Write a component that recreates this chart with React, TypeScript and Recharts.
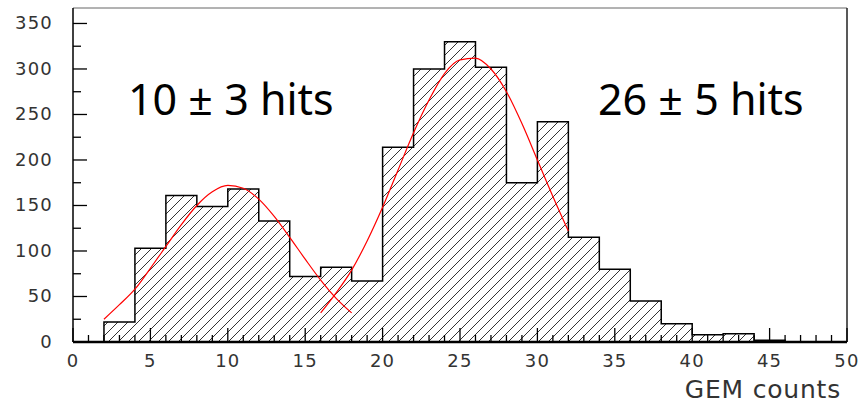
import React from "react";
import { ComposedChart, XAxis, YAxis, Area, Line, ReferenceLine } from "recharts";

// histogram: bins of width 2, left edges
const binStarts = [2, 4, 6, 8, 10, 12, 14, 16, 18, 20, 22, 24, 26, 28, 30, 32, 34, 36, 38, 40, 42, 44];
const counts = [22, 103, 161, 149, 168, 133, 72, 82, 67, 214, 300, 330, 302, 175, 242, 115, 80, 45, 20, 8, 9, 2];
const lastEdge = 46;

// gaussian fit, low peak
const fitLowX = [2, 3, 4, 5, 6, 7, 8, 9, 10, 11, 12, 13, 14, 15, 16, 17, 18];
const fitLowY = [25, 41, 58, 81, 105, 129, 150, 165, 172, 169, 157, 138, 115, 91, 68, 48, 32];

// gaussian fit, high peak
const fitHighX = [16, 17, 18, 19, 20, 21, 22, 23, 24, 25, 26, 27, 28, 29, 30, 31, 32];
const fitHighY = [32, 54, 79, 111, 148, 189, 230, 266, 295, 310, 312, 300, 275, 240, 200, 160, 122];

const xTicks = [0, 1, 2, 3, 4, 5, 6, 7, 8, 9, 10, 11, 12, 13, 14, 15, 16, 17, 18, 19, 20, 21, 22, 23, 24, 25,
  26, 27, 28, 29, 30, 31, 32, 33, 34, 35, 36, 37, 38, 39, 40, 41, 42, 43, 44, 45, 46, 47, 48, 49, 50];
const yTicks = [0, 25, 50, 75, 100, 125, 150, 175, 200, 225, 250, 275, 300, 325, 350];
const yMax = 367;

const histData = [
  { x: binStarts[0], count: 0 },
  ...binStarts.map((x, i) => ({ x, count: counts[i] })),
  { x: lastEdge, count: 0 },
];
const fitLow = fitLowX.map((x, i) => ({ x, fit: fitLowY[i] }));
const fitHigh = fitHighX.map((x, i) => ({ x, fit: fitHighY[i] }));

const tickFont = { fontFamily: "DejaVu Sans", fontSize: 18, letterSpacing: 1.2, fill: "#333" };

const XTick = (props: any) => {
  const { x, y, payload } = props;
  const major = payload.value % 5 === 0;
  return (
    <g>
      <line x1={x} x2={x} y1={y} y2={y - (major ? 14 : 7)} stroke="#000" strokeWidth={1.3} />
      {major && (
        <text x={x} y={y + 25} textAnchor="middle" {...tickFont}>
          {payload.value}
        </text>
      )}
    </g>
  );
};

const YTick = (props: any) => {
  const { x, y, payload } = props;
  const major = payload.value % 50 === 0;
  return (
    <g>
      <line x1={x} x2={x + (major ? 14 : 8)} y1={y} y2={y} stroke="#000" strokeWidth={1.3} />
      {major && (
        <text x={x - 20} y={y + 6} textAnchor="end" {...tickFont}>
          {payload.value}
        </text>
      )}
    </g>
  );
};

export default function App() {
  return (
    <div style={{ position: "absolute", left: 0, top: 0, width: 864, height: 404, background: "#fff" }}>
      <ComposedChart width={864} height={404} margin={{ top: 8, right: 17, bottom: 0, left: 13 }}>
        <defs>
          <pattern id="hatch" patternUnits="userSpaceOnUse" width={10} height={10}>
            <path d="M0,10 L10,0 M-2.5,2.5 L2.5,-2.5 M7.5,12.5 L12.5,7.5" stroke="#333" strokeWidth={1} />
          </pattern>
        </defs>
        <XAxis
          type="number"
          dataKey="x"
          domain={[0, 50]}
          ticks={xTicks}
          interval={0}
          allowDataOverflow
          height={62}
          tickSize={0}
          tickMargin={0}
          tick={<XTick />}
          axisLine={{ stroke: "#000", strokeWidth: 2.5 }}
          label={{ value: "GEM counts", position: "insideBottomRight", offset: 6, fontFamily: "DejaVu Sans", fontSize: 25, letterSpacing: 0.8, fill: "#333" }}
        />
        <YAxis
          type="number"
          domain={[0, yMax]}
          ticks={yTicks}
          interval={0}
          allowDataOverflow
          width={60}
          tickSize={0}
          tickMargin={0}
          tick={<YTick />}
          axisLine={{ stroke: "#000", strokeWidth: 1.5 }}
        />
        <ReferenceLine y={yMax} stroke="#666" strokeWidth={1} />
        <ReferenceLine x={50} stroke="#222" strokeWidth={1.5} />
        <Area
          data={histData}
          dataKey="count"
          type="stepAfter"
          fill="url(#hatch)"
          fillOpacity={1}
          stroke="#000"
          strokeWidth={1.5}
          isAnimationActive={false}
        />
        <Line data={fitLow} dataKey="fit" type="monotone" stroke="#f00" strokeWidth={1.2} dot={false} isAnimationActive={false} />
        <Line data={fitHigh} dataKey="fit" type="monotone" stroke="#f00" strokeWidth={1.2} dot={false} isAnimationActive={false} />
        <text x={128} y={115} fontFamily="Noto Sans" fontSize={43} fill="#000">
          10 ± 3 hits
        </text>
        <text x={598} y={115} fontFamily="Noto Sans" fontSize={43} fill="#000">
          26 ± 5 hits
        </text>
      </ComposedChart>
    </div>
  );
}
